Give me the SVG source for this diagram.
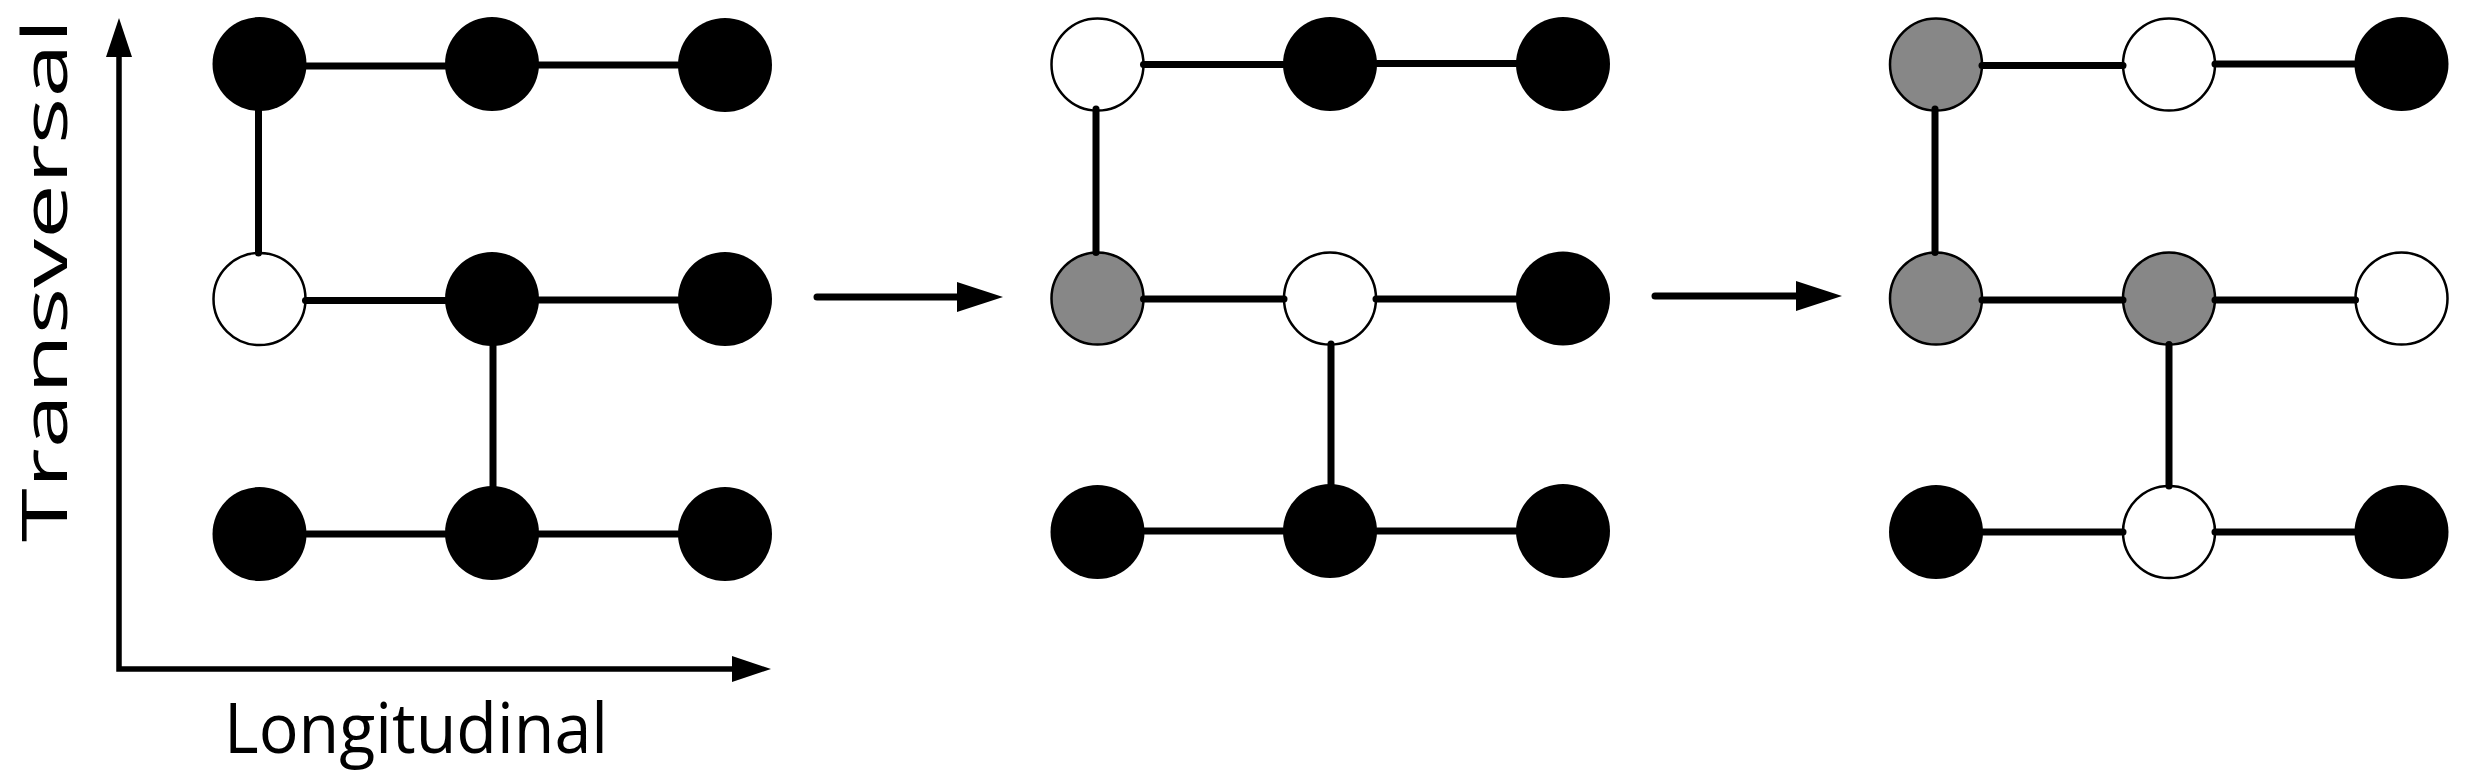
<svg xmlns="http://www.w3.org/2000/svg" width="2468" height="781" viewBox="0 0 2468 781">
<style>
.k{fill:#000}
.w{fill:#fff;stroke:#000;stroke-width:2.5}
.g{fill:#878787;stroke:#000;stroke-width:2.5}
.c{stroke:#000;stroke-width:7;stroke-linecap:round;fill:none}
.ax{stroke:#000;stroke-width:5.5;fill:none;stroke-linejoin:miter}
.lbl{font-family:"Open Sans","Lato",sans-serif;fill:#000}
</style>
<rect width="2468" height="781" fill="#fff"/>
<g id="axes">
<path class="ax" d="M119,55 V669 H736"/>
<polygon points="119,18 106,57 132,57"/>
<polygon points="771,669 732,656 732,682"/>
<text class="lbl" font-size="62" transform="translate(67,542) rotate(-90) scale(1.575,1)">Transversal</text>
<text class="lbl" x="224" y="753" font-size="70" textLength="384" lengthAdjust="spacingAndGlyphs">Longitudinal</text>
</g>
<g id="step-arrows">
<line class="c" x1="817" y1="297" x2="960" y2="297"/>
<polygon points="1003,297 957,282 957,312"/>
<line class="c" x1="1655" y1="296" x2="1799" y2="296"/>
<polygon points="1842,296 1796,281 1796,311"/>
</g>
<!-- Panel 1 -->
<g id="p1-n00"><circle class="k" cx="259.5" cy="64" r="47"/></g>
<g id="p1-n01"><circle class="k" cx="492" cy="64" r="47"/></g>
<g id="p1-n02"><circle class="k" cx="725" cy="65" r="47"/></g>
<g id="p1-n10"><circle class="w" cx="259.5" cy="299" r="46"/></g>
<g id="p1-n11"><circle class="k" cx="492" cy="299" r="47"/></g>
<g id="p1-n12"><circle class="k" cx="725" cy="299" r="47"/></g>
<g id="p1-n20"><circle class="k" cx="259.5" cy="534" r="47"/></g>
<g id="p1-n21"><circle class="k" cx="492" cy="533" r="47"/></g>
<g id="p1-n22"><circle class="k" cx="725" cy="534" r="47"/></g>
<!-- Panel 2 -->
<g id="p2-n00"><circle class="w" cx="1097.5" cy="64.5" r="46"/></g>
<g id="p2-n01"><circle class="k" cx="1330" cy="64" r="47"/></g>
<g id="p2-n02"><circle class="k" cx="1563" cy="64" r="47"/></g>
<g id="p2-n10"><circle class="g" cx="1097.5" cy="298.5" r="46"/></g>
<g id="p2-n11"><circle class="w" cx="1330" cy="298.5" r="46"/></g>
<g id="p2-n12"><circle class="k" cx="1563" cy="298.5" r="47"/></g>
<g id="p2-n20"><circle class="k" cx="1097.5" cy="532" r="47"/></g>
<g id="p2-n21"><circle class="k" cx="1330" cy="531" r="47"/></g>
<g id="p2-n22"><circle class="k" cx="1563" cy="531" r="47"/></g>
<!-- Panel 3 -->
<g id="p3-n00"><circle class="g" cx="1936" cy="64.5" r="46"/></g>
<g id="p3-n01"><circle class="w" cx="2169" cy="64.5" r="46"/></g>
<g id="p3-n02"><circle class="k" cx="2401.5" cy="64" r="47"/></g>
<g id="p3-n10"><circle class="g" cx="1936" cy="298.5" r="46"/></g>
<g id="p3-n11"><circle class="g" cx="2169" cy="298.5" r="46"/></g>
<g id="p3-n12"><circle class="w" cx="2401.5" cy="298.5" r="46"/></g>
<g id="p3-n20"><circle class="k" cx="1936" cy="532" r="47"/></g>
<g id="p3-n21"><circle class="w" cx="2169" cy="532" r="46"/></g>
<g id="p3-n22"><circle class="k" cx="2401.5" cy="532" r="47"/></g>
<g id="connectors">
<!-- panel 1 -->
<line class="c" x1="306.5" y1="66" x2="445" y2="66"/>
<line class="c" x1="539" y1="65" x2="678" y2="65"/>
<line class="c" x1="305.5" y1="300.5" x2="445" y2="300.5"/>
<line class="c" x1="539" y1="300" x2="678" y2="300"/>
<line class="c" x1="306.5" y1="534" x2="445" y2="534"/>
<line class="c" x1="539" y1="534" x2="678" y2="534"/>
<line class="c" x1="258.5" y1="111" x2="258.5" y2="253"/>
<line class="c" x1="493" y1="346" x2="493" y2="486"/>
<!-- panel 2 -->
<line class="c" x1="1143.5" y1="64.5" x2="1283" y2="64.5"/>
<line class="c" x1="1377" y1="63.5" x2="1516" y2="63.5"/>
<line class="c" x1="1143.5" y1="299" x2="1284" y2="299"/>
<line class="c" x1="1376" y1="299" x2="1516" y2="299"/>
<line class="c" x1="1144.5" y1="531" x2="1283" y2="531"/>
<line class="c" x1="1377" y1="531" x2="1516" y2="531"/>
<line class="c" x1="1096" y1="109" x2="1096" y2="252.5"/>
<line class="c" x1="1331" y1="344" x2="1331" y2="484"/>
<!-- panel 3 -->
<line class="c" x1="1982" y1="65.5" x2="2123" y2="65.5"/>
<line class="c" x1="2215" y1="64" x2="2355" y2="64"/>
<line class="c" x1="1982" y1="300" x2="2123" y2="300"/>
<line class="c" x1="2215" y1="300" x2="2355.5" y2="300"/>
<line class="c" x1="1983" y1="532" x2="2123" y2="532"/>
<line class="c" x1="2215" y1="532" x2="2354.5" y2="532"/>
<line class="c" x1="1935" y1="109" x2="1935" y2="252.5"/>
<line class="c" x1="2169" y1="344.5" x2="2169" y2="486"/>
</g>
</svg>
